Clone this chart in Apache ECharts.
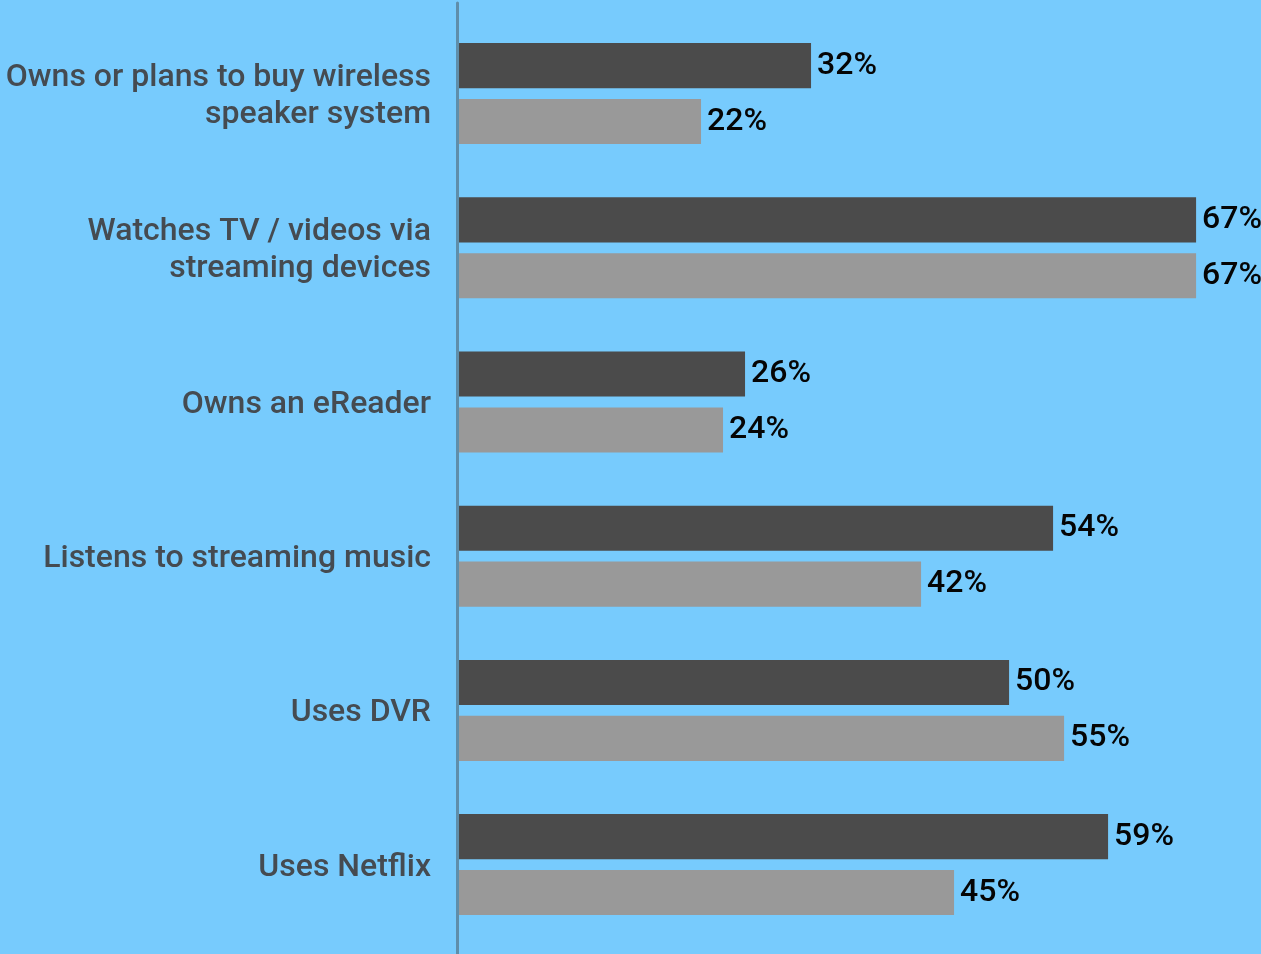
<!DOCTYPE html>
<html>
<head>
<meta charset="utf-8">
<script src="https://cdn.jsdelivr.net/npm/echarts@6/dist/echarts.min.js"></script>
<style>
  html, body { margin: 0; padding: 0; background: #77cbfd; }
  #chart { width: 1261px; height: 954px; }
</style>
</head>
<body>
<div id="chart"></div>
<script>
// Survey categories (top to bottom)
const categories = [
  'Owns or plans to buy wireless\nspeaker system',
  'Watches TV / videos via\nstreaming devices',
  'Owns an eReader',
  'Listens to streaming music',
  'Uses DVR',
  'Uses Netflix'
];
// Percentages for each group
const seriesA = [32, 67, 26, 54, 50, 59];
const seriesB = [22, 67, 24, 42, 55, 45];

const chart = echarts.init(document.getElementById('chart'), null, { renderer: 'canvas' });

const labelStyle = {
  show: true,
  position: 'right',
  distance: 6,
  formatter: '{c}%',
  color: '#050505',
  fontFamily: 'Roboto',
  fontWeight: 500,
  fontSize: 32
};

// Wrap each line of a category name in a rich-text token
const wrapLines = (v) => v.split('\n').map((l) => '{t|' + l + '}').join('\n');

chart.setOption({
  backgroundColor: '#77cbfd',
  animation: false,
  grid: [
    { left: 459, top: 16.5, height: 925.2, right: 0, containLabel: false },
    { left: 457, top: 3, bottom: 0, width: 1, containLabel: false }
  ],
  xAxis: [
    { type: 'value', gridIndex: 0, min: 0, max: 72.9, show: false },
    { type: 'value', gridIndex: 1, show: false }
  ],
  yAxis: [
    {
      type: 'category',
      gridIndex: 0,
      data: categories,
      inverse: true,
      axisLine: { show: false },
      axisTick: { show: false },
      axisLabel: {
        margin: 28,
        align: 'right',
        formatter: wrapLines,
        rich: {
          t: {
            color: '#454b51',
            fontFamily: 'Roboto',
            fontWeight: 500,
            fontSize: 32,
            lineHeight: 37,
            padding: [6, 0, 0, 0],
            align: 'right'
          }
        }
      },
      splitLine: { show: false }
    },
    {
      type: 'value',
      gridIndex: 1,
      axisLine: { show: true, lineStyle: { color: '#5f8eaa', width: 3 } },
      axisTick: { show: false },
      axisLabel: { show: false },
      splitLine: { show: false }
    }
  ],
  series: [
    {
      type: 'bar',
      data: seriesA,
      itemStyle: { color: '#4b4b4b' },
      barCategoryGap: '34.5%',
      barGap: '24%',
      label: labelStyle
    },
    {
      type: 'bar',
      data: seriesB,
      itemStyle: { color: '#999999' },
      barCategoryGap: '34.5%',
      barGap: '24%',
      label: labelStyle
    }
  ]
});
</script>
</body>
</html>
